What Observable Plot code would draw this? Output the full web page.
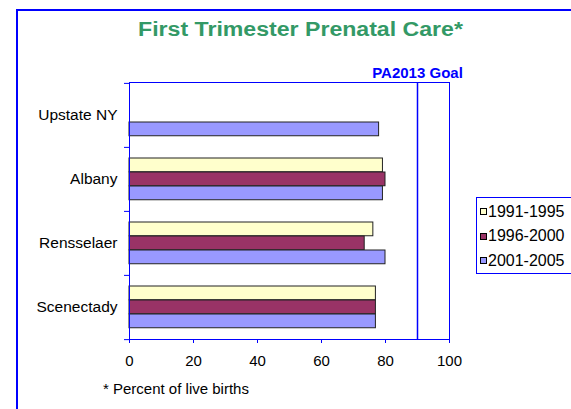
<!DOCTYPE html>
<html><head><meta charset="utf-8">
<script src="https://cdn.jsdelivr.net/npm/d3@7"></script>
<script src="https://cdn.jsdelivr.net/npm/@observablehq/plot@0.6"></script>
<style>
body{margin:0;background:#fff;font-family:"Liberation Sans",Arial,sans-serif;overflow:hidden;}
#wrap{position:relative;width:571px;height:409px;overflow:hidden;background:#fff;}
#border{position:absolute;left:16px;top:9px;width:700px;height:600px;border-left:2px solid #0000ff;border-top:2px solid #0000ff;z-index:3;pointer-events:none;}
#chart{position:absolute;left:0;top:0;}
#title{position:absolute;left:0;width:601px;top:19px;text-align:center;font-weight:bold;font-size:20px;line-height:1;color:#339966;transform:scaleX(1.155);transform-origin:300.5px 0;white-space:nowrap;}
#foot{position:absolute;left:103px;top:381px;font-size:15px;line-height:1;color:#000;white-space:nowrap;}
#legend{position:absolute;left:476px;top:197px;width:200px;height:75px;border:1px solid #0000ff;z-index:2;}
.lrow{position:absolute;left:0;font-size:16px;line-height:1;white-space:nowrap;color:#000;}
.sw{position:absolute;width:5px;height:5px;border:1px solid #000;}
</style>
</head>
<body>
<div id="wrap">
  <div id="border"></div>
  <div id="chart"></div>
  <div id="title"></div>
  <div id="foot"></div>
  <div id="legend"></div>
</div>
<script>
const titleText = "First Trimester Prenatal Care*";
const footText = "* Percent of live births";
const goalLabel = "PA2013 Goal";
const goal = 90;
const counties = ["Upstate NY", "Albany", "Rensselaer", "Scenectady"];
const periods = ["1991-1995", "1996-2000", "2001-2005"];
const v1991 = [null, 79.2, 76.2, 77];
const v1996 = [null, 80, 73.5, 77];
const v2001 = [78, 79.2, 80, 77];
const colors = ["#FFFFCC", "#993366", "#9999FF"];
const xTicks = [0, 20, 40, 60, 80, 100];

document.getElementById("title").textContent = titleText;
document.getElementById("foot").textContent = footText;

const series = [v1991, v1996, v2001];
const rows = [];
periods.forEach((p, i) => counties.forEach((c, j) => {
  if (series[i][j] != null) rows.push({period: p, county: c, value: series[i][j]});
}));

const W = 571, H = 409, mT = 82, mB = 70, mL = 129, mR = 122;
const bw = (H - mT - mB) / counties.length;
const insets = [[11, bw - 25], [25, bw - 39], [39, bw - 53]];
const tickLen = 5 * 100 / (W - mL - mR);

const plot = Plot.plot({
  width: W, height: H,
  marginTop: mT, marginBottom: mB, marginLeft: mL, marginRight: mR,
  style: {fontFamily: "'Liberation Sans', Arial, sans-serif", background: "transparent", color: "black"},
  x: {domain: [0, 100], label: null, axis: null},
  y: {domain: counties, padding: 0, label: null, axis: null},
  marks: [
    ...periods.map((p, i) => Plot.barX(rows.filter(r => r.period === p), {
      x1: 0, x2: "value", y: "county", fill: colors[i], stroke: "#222", strokeWidth: 1,
      insetTop: insets[i][0], insetBottom: insets[i][1]
    })),
    Plot.frame({stroke: "#0000ff"}),
    Plot.ruleX([goal], {x: d => d, stroke: "#0000ff", strokeWidth: 1.5}),
    Plot.ruleY(counties, {y: d => d, x1: -tickLen, x2: 0, dy: -bw / 2, stroke: "#0000ff"}),
    Plot.ruleY([counties[counties.length - 1]], {y: d => d, x1: -tickLen, x2: 0, dy: bw / 2, stroke: "#0000ff"}),
    Plot.axisX({ticks: xTicks, tickSize: 4, tickPadding: 12, stroke: "#0000ff", fill: "black", fontSize: 15, label: null}),
    Plot.axisY({tickSize: 0, tickPadding: 12, fill: "black", fontSize: 15.5, label: null}),
    Plot.text([goal], {x: d => d, frameAnchor: "top", dy: -15, text: () => goalLabel, fill: "#0000ff", fontWeight: "bold", fontSize: 15})
  ]
});
document.getElementById("chart").appendChild(plot);

const legend = document.getElementById("legend");
const rowCenters = [13.7, 38.2, 62.8];
periods.forEach((p, i) => {
  const sw = document.createElement("div");
  sw.className = "sw";
  sw.style.left = "3px";
  sw.style.top = (rowCenters[i] - 3.5) + "px";
  sw.style.background = colors[i];
  legend.appendChild(sw);
  const t = document.createElement("div");
  t.className = "lrow";
  t.style.left = "11px";
  t.style.top = (rowCenters[i] - 7.8) + "px";
  t.textContent = p;
  legend.appendChild(t);
});
</script>
</body></html>
